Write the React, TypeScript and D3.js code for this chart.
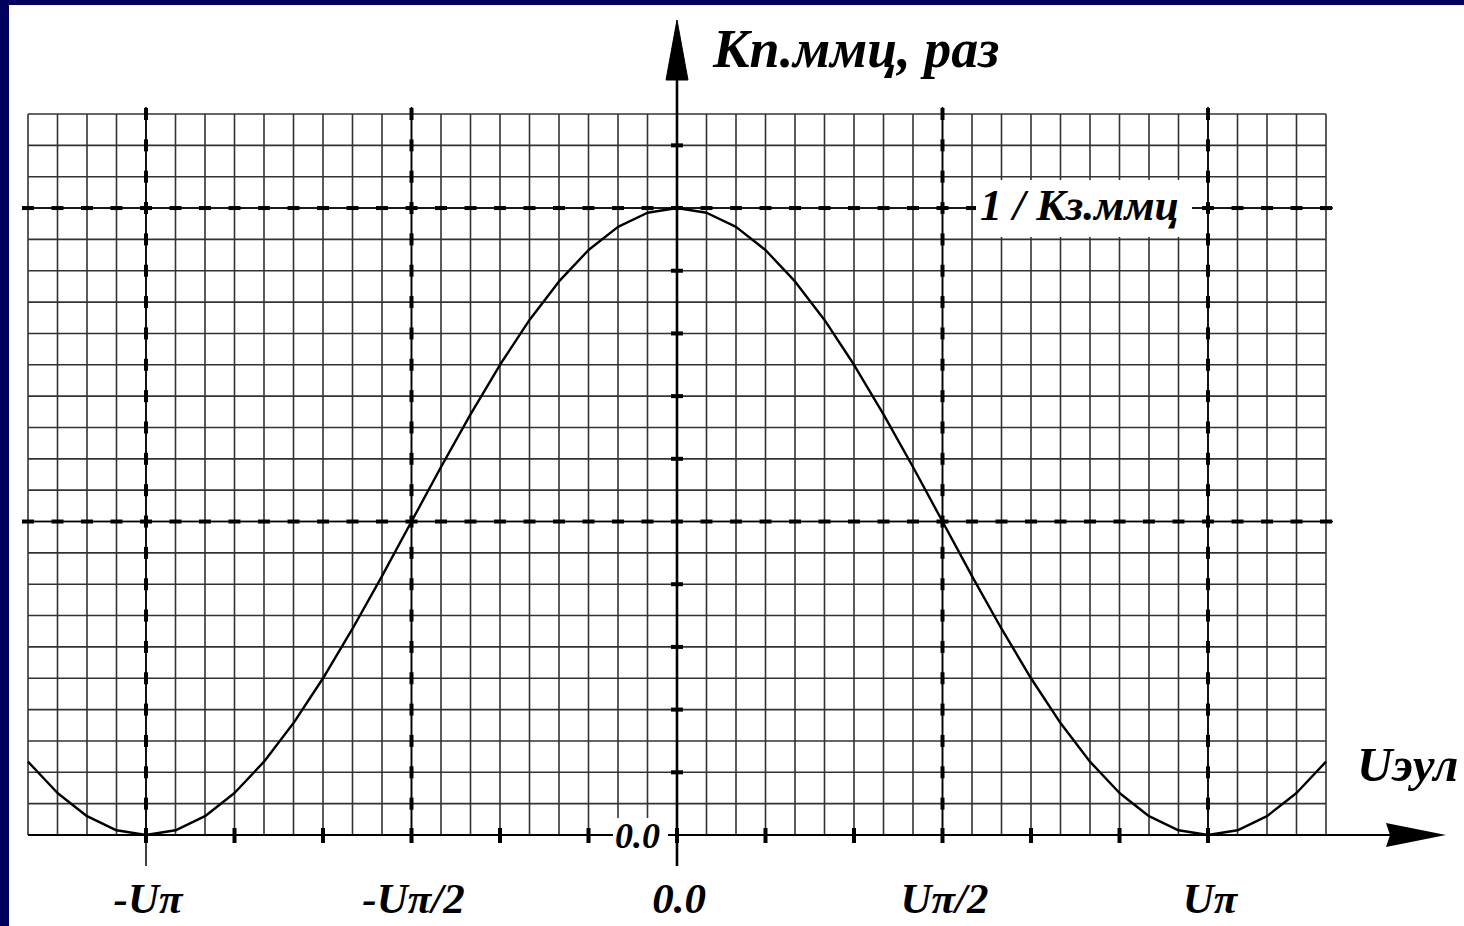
import * as d3 from "d3"

// x in grid cells (Uπ = 18 cells), k in grid cells (peak 1/Кз.ммц = 20 cells)
const xCells = [
  -22, -21, -20, -19, -18, -17, -16, -15, -14, -13, -12, -11, -10, -9, -8, -7, -6, -5, -4, -3, -2, -1, 0,
  1, 2, 3, 4, 5, 6, 7, 8, 9, 10, 11, 12, 13, 14, 15, 16, 17, 18, 19, 20, 21, 22,
]
const kValues = [
  2.34, 1.34, 0.6, 0.15, 0, 0.15, 0.6, 1.34, 2.34, 3.57, 5.0, 6.58, 8.26, 10.0, 11.74, 13.42, 15.0, 16.43,
  17.66, 18.66, 19.4, 19.85, 20.0, 19.85, 19.4, 18.66, 17.66, 16.43, 15.0, 13.42, 11.74, 10.0, 8.26, 6.58,
  5.0, 3.57, 2.34, 1.34, 0.6, 0.15, 0, 0.15, 0.6, 1.34, 2.34,
]
const xTickPos = [-18, -9, 0, 9, 18]
const xTickLabels = ["-Uπ", "-Uπ/2", "0.0", "Uπ/2", "Uπ"]
const xMajor = [-18, -9, 9, 18]
const yMajor = [10, 20]
const xAxisTicks = [-18, -15, -12, -9, -6, -3, 3, 6, 9, 12, 15, 18]
const yAxisTicks = [2, 4, 6, 8, 12, 14, 16, 18, 22]

const W = 1464
const H = 926
const FONT = "'Liberation Serif', 'Times New Roman', serif"

export default function App() {
  const x = d3.scaleLinear().domain([-22, 22]).range([28, 1326])
  const y = d3.scaleLinear().domain([0, 23]).range([835, 114])

  const gridX = d3.range(-22, 23)
  const gridY = d3.range(0, 24)

  const line = d3
    .line<number>()
    .x((_, i) => x(xCells[i]))
    .y((d) => y(d))

  const x0 = x(0)
  const y0 = y(0)

  const textStyle = { fontFamily: FONT, fontWeight: "bold" as const, fontStyle: "italic" as const, fill: "#000" }

  return (
    <svg width={W} height={H} style={{ position: "absolute", left: 0, top: 0 }}>
      <rect width={W} height={H} fill="#00005e" />
      <rect x={9} y={5} width={W - 9} height={H - 5} fill="#fff" />

      {/* fine grid */}
      <g stroke="#333" strokeWidth={1.6}>
        {gridX.map((c) => (
          <line key={"v" + c} x1={x(c)} x2={x(c)} y1={y(0)} y2={y(23)} />
        ))}
        {gridY.map((c) => (
          <line key={"h" + c} x1={x(-22)} x2={x(22)} y1={y(c)} y2={y(c)} />
        ))}
      </g>

      {/* major dashed lines */}
      <g>
        {xMajor.map((c) => (
          <g key={"mv" + c}>
            <line x1={x(c)} x2={x(c)} y1={y(23) - 7} y2={y(0)} stroke="#000" strokeWidth={1.6} />
            {gridY.slice(1).map((j) => (
              <rect key={j} x={x(c) - 2} y={y(j) - 6} width={4} height={12} fill="#000" />
            ))}
          </g>
        ))}
        <line x1={x(-18)} x2={x(-18)} y1={y0} y2={y0 + 31} stroke="#000" strokeWidth={1.5} />
        {yMajor.map((r) => (
          <g key={"mh" + r}>
            <line x1={x(-22) - 5} x2={x(22) + 7} y1={y(r)} y2={y(r)} stroke="#000" strokeWidth={1.6} />
            {gridX.map((c) => (
              <rect key={c} x={x(c) - 6} y={y(r) - 2} width={12} height={4} fill="#000" />
            ))}
          </g>
        ))}
      </g>

      {/* curve */}
      <path d={line(kValues) ?? ""} fill="none" stroke="#000" strokeWidth={2.4} strokeLinejoin="round" />

      {/* axes */}
      <line x1={x(-22)} x2={1400} y1={y0} y2={y0} stroke="#000" strokeWidth={2.2} />
      <line x1={x0} x2={x0} y1={y0 + 31} y2={70} stroke="#000" strokeWidth={2.6} />
      <path d={`M${x0},20 L${x0 + 11},80 L${x0 - 11},80 Z`} fill="#000" stroke="#000" strokeLinejoin="round" />
      <path d={`M1446,${y0} L1386,${y0 - 12} L1390,${y0} L1386,${y0 + 12} Z`} fill="#000" />

      {xAxisTicks.map((c) => (
        <rect key={"xt" + c} x={x(c) - 2} y={y0 - 7} width={4} height={15} fill="#000" />
      ))}
      {yAxisTicks.map((r) => (
        <rect key={"yt" + r} x={x0 - 6} y={y(r) - 2} width={12} height={4} fill="#000" />
      ))}

      {/* labels */}
      <rect x={976} y={180} width={216} height={57} fill="#fff" />
      <text x={980} y={220} fontSize={44} {...textStyle}>
        1 / Кз.ммц
      </text>

      <rect x={613} y={818} width={55} height={33} fill="#fff" />
      <rect x={x0 - 2} y={y0 - 7} width={4} height={15} fill="#000" />
      <text x={615} y={848} fontSize={36} {...textStyle}>
        0.0
      </text>

      <text x={713} y={67} fontSize={54} {...textStyle}>
        Кп.ммц, раз
      </text>
      <text x={1357} y={781} fontSize={49} {...textStyle}>
        Uэул
      </text>

      {xTickPos.map((c, i) => (
        <text key={"xl" + c} x={x(c) + 2} y={913} fontSize={43} textAnchor="middle" {...textStyle}>
          {xTickLabels[i]}
        </text>
      ))}
    </svg>
  )
}
